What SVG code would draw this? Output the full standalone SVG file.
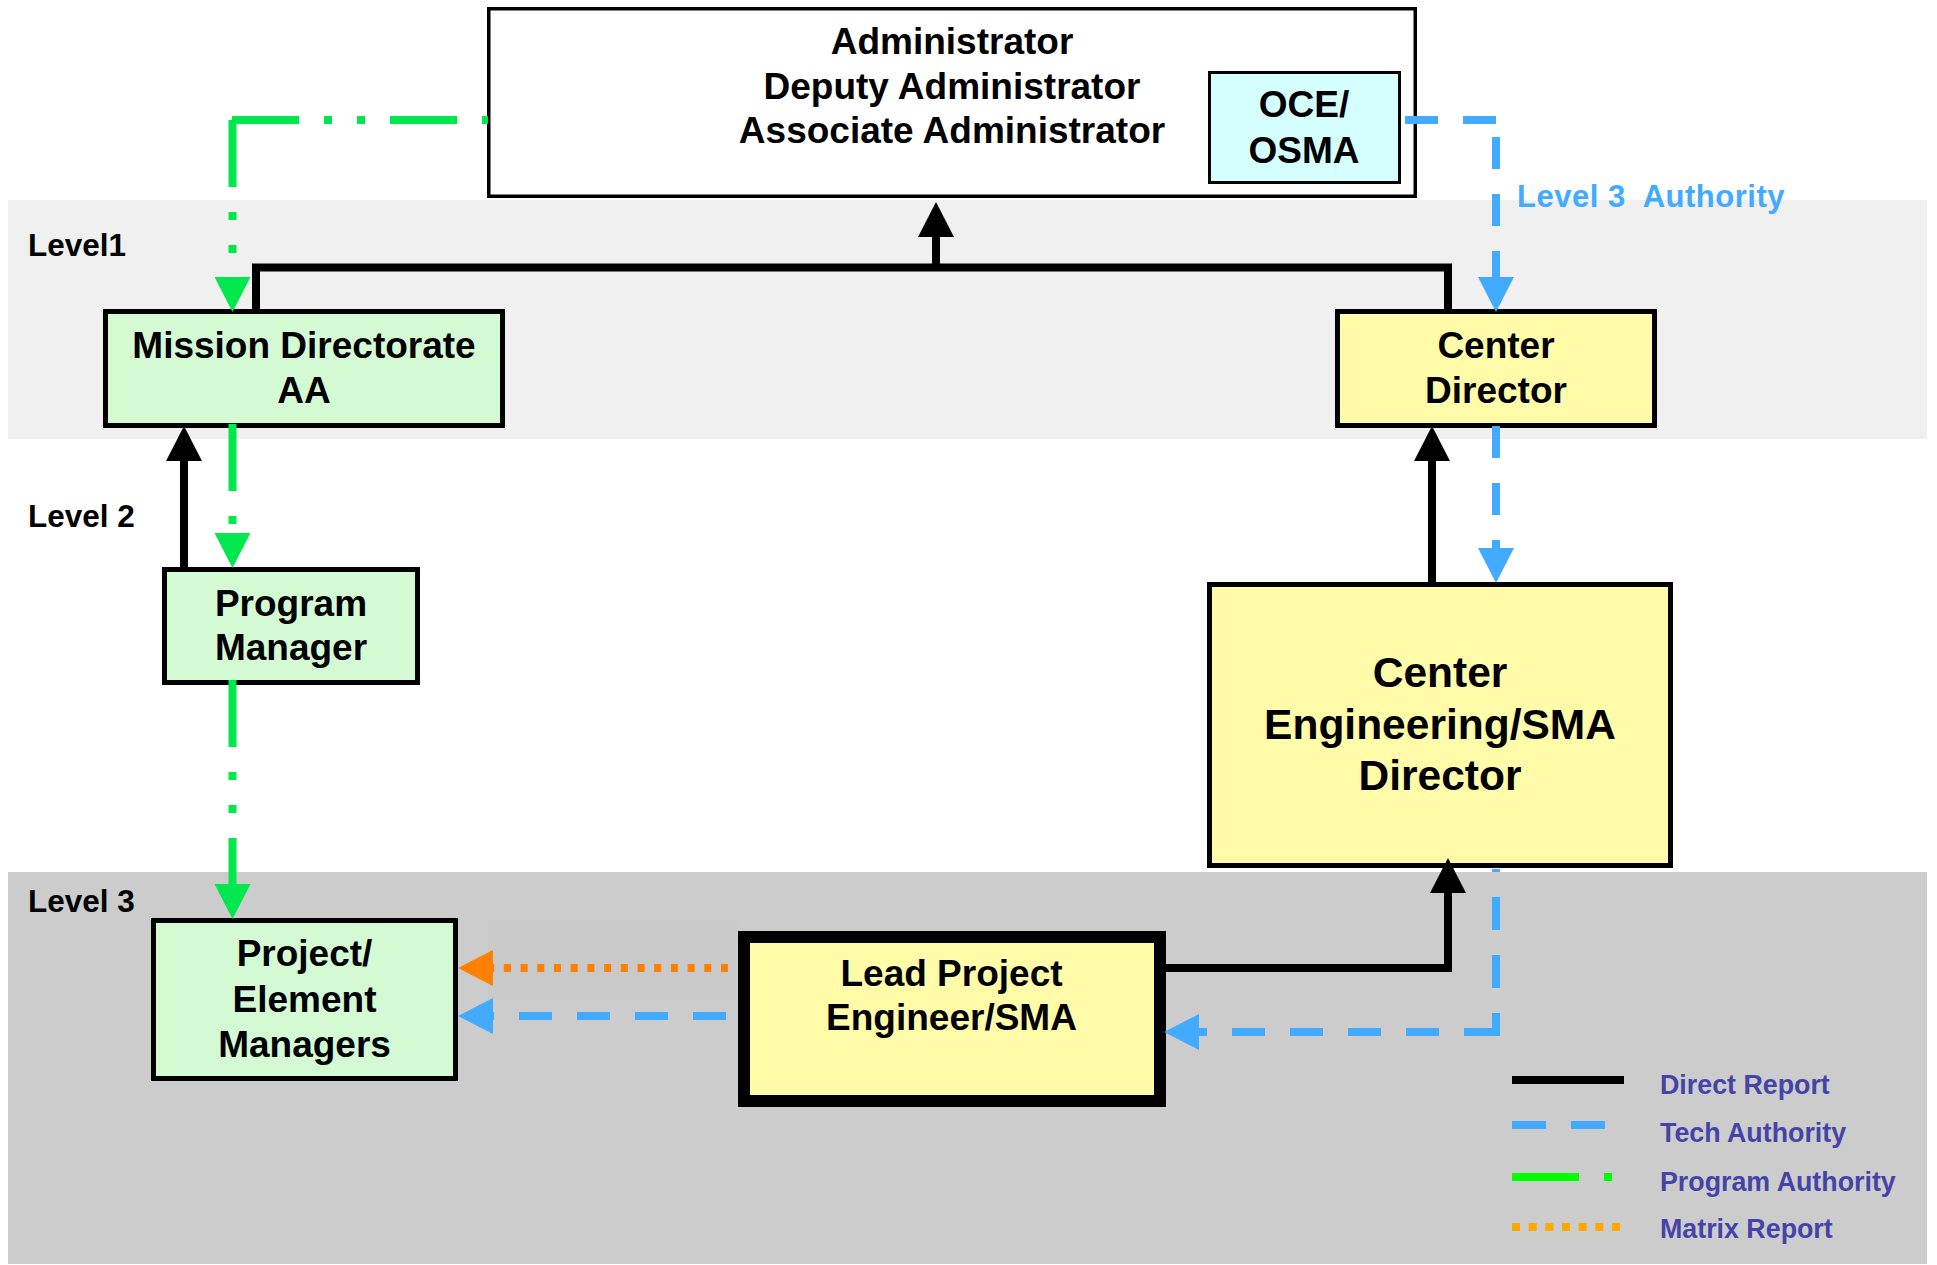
<svg xmlns="http://www.w3.org/2000/svg" width="1937" height="1265" viewBox="0 0 1937 1265">
  <style>
    .node text, text.lbl { font-family: "Liberation Sans", Arial, sans-serif; font-weight: bold; }
    .node text { font-size: 37px; fill: #000; text-anchor: middle; }
    .node text.big { font-size: 42.5px; }
    .green { fill: #D4FAD4; stroke: #000; stroke-width: 5; }
    .yellow { fill: #FFFBA8; stroke: #000; stroke-width: 5; }
    .level { font-size: 31.5px; fill: #000; }
    .legend { font-size: 26.8px; fill: #4444A8; }
    .direct { fill: none; stroke: #000; stroke-width: 8; }
    .tech { fill: none; stroke: #42ABFF; stroke-width: 8; stroke-dasharray: 33 25; }
    .prog { fill: none; stroke: #00E84E; stroke-width: 8; stroke-dasharray: 67 25 8 25 8 25; }
    .matrix { fill: none; stroke: #FF7F00; stroke-width: 8; stroke-dasharray: 7 9.7; }
  </style>
  <defs>
    <marker id="arrBlack" markerUnits="userSpaceOnUse" markerWidth="36" markerHeight="38" viewBox="0 -19 36 38" refX="0" refY="0" orient="auto">
      <path d="M0,-18 L35,0 L0,18 Z" fill="#000"/>
    </marker>
    <marker id="arrBlue" markerUnits="userSpaceOnUse" markerWidth="36" markerHeight="38" viewBox="0 -19 36 38" refX="0" refY="0" orient="auto">
      <path d="M0,-18 L35,0 L0,18 Z" fill="#42ABFF"/>
    </marker>
    <marker id="arrGreen" markerUnits="userSpaceOnUse" markerWidth="36" markerHeight="38" viewBox="0 -19 36 38" refX="0" refY="0" orient="auto">
      <path d="M0,-18 L35,0 L0,18 Z" fill="#00E84E"/>
    </marker>
    <marker id="arrOrange" markerUnits="userSpaceOnUse" markerWidth="36" markerHeight="38" viewBox="0 -19 36 38" refX="0" refY="0" orient="auto">
      <path d="M0,-18 L35,0 L0,18 Z" fill="#FF7F00"/>
    </marker>
  </defs>

  <!-- background -->
  <rect x="0" y="0" width="1937" height="1265" fill="#FFFFFF"/>

  <!-- level bands -->
  <g id="bands">
    <rect x="8" y="200" width="1919" height="239" fill="#F0F0F0"/>
    <rect x="8" y="872" width="1919" height="392" fill="#CCCCCC"/>
    <rect x="488" y="920" width="249" height="80" fill="#C9C9C9"/>
  </g>

  <!-- level labels -->
  <g id="levels">
    <text class="lbl level" x="28" y="256">Level1</text>
    <text class="lbl level" x="28" y="527">Level 2</text>
    <text class="lbl level" x="28" y="912">Level 3</text>
  </g>

  <!-- nodes -->
  <g id="admin" class="node">
    <rect x="488.75" y="8.75" width="926.5" height="187.5" fill="#FFFFFF" stroke="#000" stroke-width="3.5"/>
    <text x="952" y="54">Administrator</text>
    <text x="952" y="99">Deputy Administrator</text>
    <text x="952" y="143">Associate Administrator</text>
  </g>
  <g id="oce-osma" class="node">
    <rect x="1209.5" y="72.5" width="190" height="110" fill="#D5FFFF" stroke="#000" stroke-width="3"/>
    <text x="1304" y="117">OCE/</text>
    <text x="1304" y="163">OSMA</text>
  </g>
  <g id="mission-directorate" class="node">
    <rect class="green" x="105.5" y="311.5" width="397" height="114"/>
    <text x="304" y="358">Mission Directorate</text>
    <text x="304" y="403">AA</text>
  </g>
  <g id="center-director" class="node">
    <rect class="yellow" x="1337.5" y="311.5" width="317" height="114"/>
    <text x="1496" y="358">Center</text>
    <text x="1496" y="403">Director</text>
  </g>
  <g id="program-manager" class="node">
    <rect class="green" x="164.5" y="569.5" width="253" height="113"/>
    <text x="291" y="616">Program</text>
    <text x="291" y="660">Manager</text>
  </g>
  <g id="center-eng-sma" class="node">
    <rect class="yellow" x="1209.5" y="584.5" width="461" height="281"/>
    <text class="big" x="1440" y="687">Center</text>
    <text class="big" x="1440" y="739">Engineering/SMA</text>
    <text class="big" x="1440" y="790">Director</text>
  </g>
  <g id="project-managers" class="node">
    <rect class="green" x="153.5" y="920.5" width="302" height="158"/>
    <text x="304.5" y="966">Project/</text>
    <text x="304.5" y="1012">Element</text>
    <text x="304.5" y="1057">Managers</text>
  </g>
  <g id="lead-engineer" class="node">
    <rect x="744" y="937" width="416" height="164" fill="#FFFBA8" stroke="#000" stroke-width="12"/>
    <text x="951.5" y="986">Lead Project</text>
    <text x="951.5" y="1030">Engineer/SMA</text>
  </g>

  <!-- connectors -->
  <g id="connectors">
    <!-- direct report -->
    <path class="direct" d="M256 312 V267.5 H1448 V312"/>
    <path class="direct" d="M936 268 V237" marker-end="url(#arrBlack)"/>
    <path class="direct" d="M184 567 V461" marker-end="url(#arrBlack)"/>
    <path class="direct" d="M1432 582 V461" marker-end="url(#arrBlack)"/>
    <path class="direct" d="M1160 968 H1448 V893" marker-end="url(#arrBlack)"/>

    <!-- tech authority -->
    <path class="tech" d="M1405 120 H1500"/>
    <path class="tech" d="M1496 137 V277" style="stroke-dasharray:32 25" marker-end="url(#arrBlue)"/>
    <path class="tech" d="M1496 426 V548" style="stroke-dasharray:32 25" marker-end="url(#arrBlue)"/>
    <path class="tech" d="M1496 869 V1036" style="stroke-dashoffset:30"/>
    <path class="tech" d="M1497 1032 H1199" marker-end="url(#arrBlue)"/>
    <path class="tech" d="M726 1016 H493" marker-end="url(#arrBlue)"/>

    <!-- matrix report -->
    <path class="matrix" d="M728 968 H493" marker-end="url(#arrOrange)"/>

    <!-- program authority -->
    <path class="prog" d="M488 120 H232" style="stroke-dashoffset:127"/>
    <path class="prog" d="M232.5 120 V277" marker-end="url(#arrGreen)"/>
    <path class="prog" d="M232.5 424 V533" marker-end="url(#arrGreen)"/>
    <path class="prog" d="M232.5 680 V884" marker-end="url(#arrGreen)"/>

    <text class="lbl" x="1517" y="207" xml:space="preserve" style="font-size:31px;letter-spacing:0.5px;fill:#42ABFF">Level 3  Authority</text>
  </g>

  <!-- legend -->
  <g id="legend">
    <line x1="1512" y1="1080" x2="1624" y2="1080" stroke="#000" stroke-width="8"/>
    <line x1="1512" y1="1125" x2="1605" y2="1125" stroke="#42ABFF" stroke-width="8" stroke-dasharray="34 25"/>
    <line x1="1512" y1="1177" x2="1612" y2="1177" stroke="#00FF00" stroke-width="8" stroke-dasharray="67 25 8 25"/>
    <line x1="1512" y1="1227" x2="1620" y2="1227" stroke="#FFA800" stroke-width="8" stroke-dasharray="8 8.67"/>
    <text class="lbl legend" x="1660" y="1094">Direct Report</text>
    <text class="lbl legend" x="1660" y="1142">Tech Authority</text>
    <text class="lbl legend" x="1660" y="1191">Program Authority</text>
    <text class="lbl legend" x="1660" y="1238">Matrix Report</text>
  </g>
</svg>
